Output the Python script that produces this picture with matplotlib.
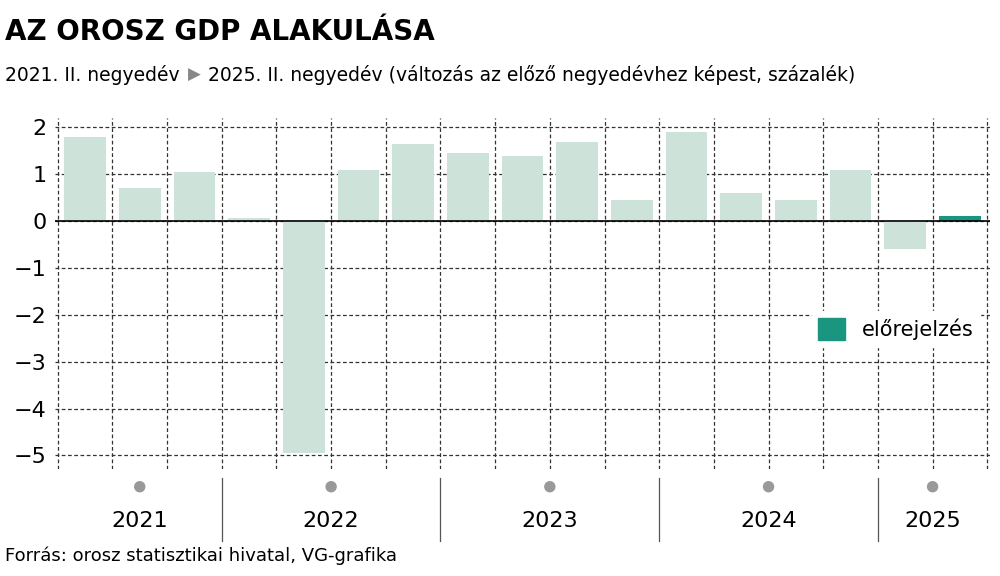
import matplotlib
matplotlib.use("Agg")
import matplotlib.pyplot as plt
import numpy as np
from matplotlib.patches import Patch

values = [1.8, 0.7, 1.05, 0.07, -4.95, 1.1, 1.65, 1.45, 1.4, 1.7, 0.45, 1.9, 0.6, 0.45, 1.1, -0.6, 0.12]
forecast = [False]*16 + [True]
years = ["2021", "2022", "2023", "2024", "2025"]
year_counts = [3, 4, 4, 4, 2]
yticks = [2, 1, 0, -1, -2, -3, -4, -5]

plt.rcParams['font.family'] = ['DejaVu Sans']
fig = plt.figure(figsize=(10, 5.76), dpi=100)
ax = fig.add_axes([0.055, 0.185, 0.935, 0.61])
n = len(values)
x = np.arange(n)
colors = ['#1a9580' if f else '#cde3d9' for f in forecast]
ax.bar(x, values, width=0.76, color=colors, zorder=2)
ax.set_xlim(-0.55, n - 0.45)
ax.set_ylim(-5.3, 2.2)
ax.set_yticks(yticks)
ax.set_yticklabels([str(t).replace('-', '−') for t in yticks], fontsize=16)
for t in yticks:
    ax.axhline(t, color='#333333', lw=0.9, ls=(0, (3, 2)), zorder=1)
for b in np.arange(-0.5, n, 1.0):
    ax.axvline(b, color='#333333', lw=0.9, ls=(0, (3, 2)), zorder=1)
ax.axhline(0, color='black', lw=1.2, zorder=3)
for s in ax.spines.values():
    s.set_visible(False)
ax.tick_params(axis='y', length=0, pad=6)
ax.set_xticks([])

start = 0
for y, c in zip(years, year_counts):
    center = start + (c - 1) / 2
    xf = ax.transData.transform((center, 0))[0] / fig.bbox.width
    fig.text(xf, 0.095, y, ha='center', va='center', fontsize=16)
    fig.patches.append(plt.Circle((xf * 1000, 576 * 0.155), 5, color='#999999',
                                  transform=None, figure=fig))
    if start > 0:
        xb = ax.transData.transform((start - 0.5, 0))[0] / fig.bbox.width
        fig.add_artist(plt.Line2D([xb, xb], [0.06, 0.17], color='#555555', lw=0.9))
    start += c

ax.legend(handles=[Patch(color='#1a9580', label='előrejelzés')], loc='center right',
          bbox_to_anchor=(1.0, 0.4), frameon=True, facecolor='white', edgecolor='white',
          framealpha=1, fontsize=15, handlelength=1.3, handleheight=1.3, borderpad=0.3)

fig.text(0.005, 0.945, "AZ OROSZ GDP ALAKULÁSA", fontsize=20, fontweight='bold', va='center')
t1 = fig.text(0.005, 0.87, "2021. II. negyedév", fontsize=13.5, va='center')
fig.canvas.draw()
bb = t1.get_window_extent()
t2 = fig.text(bb.x1 / 1000 + 0.008, 0.87, "▶", fontsize=12, va='center', color='#888888')
bb2 = t2.get_window_extent(renderer=fig.canvas.get_renderer())
fig.text(bb2.x1 / 1000 + 0.008, 0.87,
         "2025. II. negyedév (változás az előző negyedévhez képest, százalék)",
         fontsize=13.5, va='center')
fig.text(0.005, 0.035, "Forrás: orosz statisztikai hivatal, VG-grafika", fontsize=13, va='center')
fig.savefig("out.png", dpi=100)
